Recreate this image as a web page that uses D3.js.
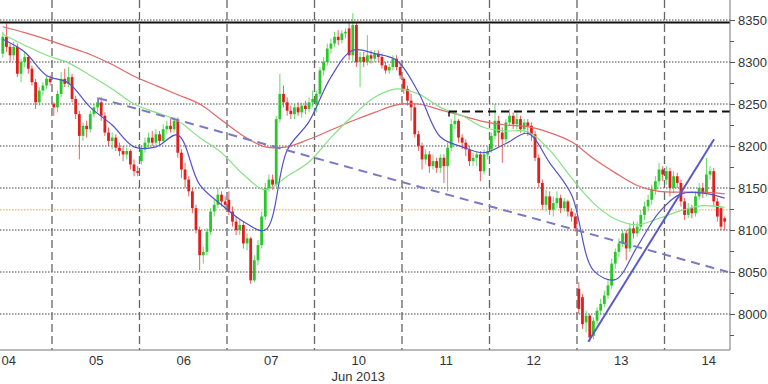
<!DOCTYPE html>
<html>
  <head>
    <meta charset="utf-8">
    <title>Jun 2013 hourly</title>
    <script src="https://d3js.org/d3.v7.min.js"></script>
    <style>
      body { margin: 0; background: #fff; }
      text { font-family: "Liberation Sans", Arial, sans-serif; }
    </style>
  </head>
  <body>
    <script type="text/javascript">
      // trading days on the x axis, 24 half-hour bars each
      var days = ['04', '05', '06', '07', '10', '11', '12', '13', '14'];
      var monthLabel = 'Jun 2013';
      var monthDay = 4;           // label sits under "10"
      var barsPerDay = 24;
      var firstBar = 10;          // first visible bar of day 04

      var opens = [
        8310, 8330, 8318, 8308, 8318, 8286, 8300, 8306, 8292, 8276, 8252, 8266, 8272, 8280,
        8250, 8246, 8262, 8280, 8274, 8282, 8256, 8238, 8212, 8224, 8220, 8238, 8246, 8252, 8236, 8216, 8206, 8210, 8198, 8194, 8190, 8194, 8178, 8170,
        8182, 8196, 8204, 8210, 8204, 8214, 8206, 8220, 8224, 8220, 8230, 8192, 8172, 8160, 8146, 8126, 8100, 8070, 8074, 8098, 8122, 8130, 8142, 8134,
        8136, 8122, 8110, 8100, 8106, 8084, 8090, 8040, 8064, 8082, 8116, 8150, 8160, 8154, 8232, 8262, 8252, 8242, 8238, 8246, 8240, 8248, 8244, 8252,
        8250, 8262, 8290, 8300, 8316, 8322, 8330, 8326, 8334, 8340, 8308, 8344, 8300, 8306, 8300, 8308, 8304, 8310, 8306, 8296, 8290, 8294, 8304, 8294,
        8280, 8268, 8254, 8246, 8214, 8200, 8184, 8190, 8176, 8182, 8174, 8186, 8176, 8198, 8226, 8230, 8210, 8204, 8196, 8182, 8186, 8190, 8170, 8190,
        8196, 8212, 8230, 8216, 8208, 8228, 8236, 8226, 8232, 8220, 8228, 8224, 8214, 8186, 8156, 8130, 8140, 8124, 8132, 8138, 8126, 8134, 8122, 8116,
        8030, 8020, 7990, 7998, 7974, 7992, 8004, 8012, 8022, 8034, 8060, 8074, 8084, 8096, 8078, 8102, 8096, 8104, 8118, 8128, 8136, 8148, 8158, 8172,
        8160, 8170, 8150, 8164, 8156, 8134, 8118, 8126, 8120, 8140, 8150, 8144, 8166, 8170, 8134, 8126, 8114
      ];
      var highs = [
        8336, 8346, 8322, 8324, 8322, 8304, 8312, 8308, 8296, 8280, 8270, 8276, 8284, 8284,
        8252, 8266, 8288, 8292, 8294, 8286, 8260, 8242, 8228, 8230, 8242, 8250, 8258, 8258, 8240, 8222, 8216, 8214, 8204, 8200, 8198, 8196, 8184, 8176,
        8200, 8210, 8216, 8218, 8220, 8218, 8226, 8230, 8232, 8234, 8234, 8196, 8180, 8164, 8150, 8130, 8104, 8080, 8102, 8126, 8136, 8150, 8146, 8140,
        8146, 8128, 8116, 8112, 8110, 8096, 8092, 8070, 8088, 8122, 8156, 8166, 8166, 8236, 8286, 8272, 8258, 8248, 8250, 8252, 8252, 8254, 8258, 8266,
        8266, 8294, 8306, 8322, 8328, 8336, 8338, 8338, 8340, 8348, 8358, 8348, 8312, 8312, 8332, 8314, 8314, 8314, 8310, 8300, 8298, 8308, 8308, 8298,
        8282, 8272, 8262, 8250, 8218, 8204, 8196, 8194, 8190, 8186, 8190, 8190, 8204, 8232, 8240, 8232, 8214, 8208, 8200, 8192, 8194, 8194, 8196, 8200,
        8216, 8250, 8236, 8222, 8232, 8244, 8240, 8240, 8236, 8232, 8232, 8228, 8218, 8190, 8160, 8148, 8146, 8140, 8146, 8142, 8138, 8136, 8126, 8120,
        8038, 8024, 8004, 8000, 7996, 8008, 8018, 8028, 8040, 8066, 8078, 8090, 8100, 8100, 8108, 8110, 8110, 8124, 8134, 8142, 8154, 8164, 8180, 8176,
        8176, 8174, 8170, 8168, 8160, 8138, 8132, 8130, 8146, 8156, 8156, 8186, 8176, 8174, 8138, 8128, 8116
      ];
      var lows = [
        8305, 8312, 8300, 8302, 8282, 8276, 8294, 8286, 8272, 8244, 8248, 8260, 8268, 8272,
        8236, 8240, 8258, 8270, 8270, 8252, 8232, 8184, 8206, 8210, 8216, 8234, 8240, 8230, 8212, 8200, 8196, 8194, 8188, 8182, 8184, 8172, 8164, 8164,
        8178, 8192, 8198, 8200, 8200, 8200, 8204, 8214, 8216, 8216, 8186, 8162, 8150, 8140, 8120, 8096, 8052, 8060, 8070, 8094, 8116, 8126, 8128, 8124,
        8118, 8104, 8094, 8094, 8078, 8076, 8036, 8038, 8058, 8078, 8112, 8146, 8148, 8150, 8228, 8246, 8236, 8232, 8232, 8236, 8234, 8238, 8240, 8246,
        8240, 8258, 8284, 8296, 8310, 8318, 8320, 8322, 8328, 8302, 8300, 8294, 8270, 8294, 8296, 8298, 8300, 8300, 8292, 8286, 8286, 8290, 8290, 8280,
        8262, 8248, 8230, 8210, 8194, 8172, 8178, 8168, 8172, 8168, 8168, 8156, 8146, 8194, 8220, 8204, 8196, 8188, 8176, 8176, 8176, 8158, 8166, 8184,
        8192, 8208, 8200, 8180, 8204, 8224, 8220, 8220, 8216, 8214, 8212, 8206, 8182, 8150, 8124, 8122, 8118, 8116, 8126, 8120, 8122, 8116, 8110, 8098,
        8000, 7982, 7978, 7967, 7970, 7988, 8000, 8008, 8018, 8030, 8054, 8068, 8080, 8064, 8074, 8090, 8092, 8100, 8112, 8122, 8130, 8142, 8152, 8158,
        8154, 8140, 8144, 8150, 8128, 8112, 8114, 8114, 8116, 8136, 8138, 8140, 8160, 8128, 8110, 8100, 8100
      ];
      var closes = [
        8330, 8318, 8308, 8318, 8286, 8300, 8306, 8292, 8276, 8252, 8266, 8272, 8280, 8276,
        8246, 8262, 8280, 8274, 8282, 8256, 8238, 8212, 8224, 8220, 8238, 8246, 8252, 8236, 8216, 8206, 8210, 8198, 8194, 8190, 8194, 8178, 8170, 8168,
        8196, 8204, 8210, 8204, 8214, 8206, 8220, 8224, 8220, 8230, 8192, 8172, 8160, 8146, 8126, 8100, 8070, 8074, 8098, 8122, 8130, 8142, 8134, 8130,
        8122, 8110, 8100, 8106, 8084, 8090, 8040, 8064, 8082, 8116, 8150, 8160, 8154, 8232, 8262, 8252, 8242, 8238, 8246, 8240, 8248, 8244, 8252, 8256,
        8262, 8290, 8300, 8316, 8322, 8330, 8326, 8334, 8336, 8308, 8344, 8300, 8306, 8300, 8308, 8304, 8310, 8306, 8296, 8290, 8294, 8304, 8294, 8284,
        8268, 8254, 8246, 8214, 8200, 8184, 8190, 8176, 8182, 8174, 8186, 8176, 8198, 8226, 8230, 8210, 8204, 8196, 8182, 8186, 8190, 8170, 8190, 8194,
        8212, 8230, 8216, 8208, 8228, 8236, 8226, 8232, 8220, 8228, 8224, 8214, 8186, 8156, 8130, 8140, 8124, 8132, 8138, 8126, 8134, 8122, 8116, 8102,
        8006, 7988, 7998, 7972, 7992, 8004, 8012, 8022, 8034, 8060, 8074, 8084, 8096, 8078, 8102, 8096, 8104, 8118, 8128, 8136, 8148, 8158, 8172, 8166,
        8170, 8150, 8164, 8156, 8134, 8118, 8126, 8120, 8140, 8150, 8144, 8166, 8170, 8134, 8116, 8104, 8110
      ];

      // moving averages read every 6 bars from bar 10
      var maStep = 6;
      var maSlow = [8342, 8335, 8327, 8318, 8309, 8297, 8283, 8272, 8261, 8250, 8231, 8212, 8199, 8199, 8208, 8219, 8230,
                    8240, 8249, 8250, 8243, 8236, 8229, 8225, 8223, 8216, 8205, 8185, 8168, 8153, 8146, 8145, 8145, 8143];
      var maMid = [8333, 8320, 8308, 8299, 8284, 8268, 8250, 8240, 8230, 8210, 8192, 8166, 8148, 8164, 8181, 8210, 8236,
                   8258, 8268, 8262, 8246, 8236, 8222, 8218, 8217, 8195, 8162, 8132, 8113, 8106, 8114, 8123, 8129, 8127];
      var maFast = [8327, 8312, 8284, 8275, 8246, 8225, 8199, 8199, 8213, 8154, 8130, 8110, 8100, 8195, 8229, 8282, 8314,
                    8310, 8302, 8264, 8211, 8199, 8192, 8203, 8215, 8180, 8142, 8052, 8041, 8080, 8121, 8143, 8144, 8138];

      var priceTicks = [8000, 8050, 8100, 8150, 8200, 8250, 8300, 8350];
      var minorTicks = [7975, 8025, 8075, 8125, 8175, 8225, 8275, 8325];

      // drawn levels and trend lines [bar, price]
      var topLevel = 8347;
      var resistLevel = 8241;
      var resistFrom = 132.9;
      var orangeLevel = 8124;
      var trendDown = [[36.7, 8257], [209.4, 8050]];
      var trendUp = [[171.1, 7967], [205.6, 8208]];

      var W = 768, H = 384, right = 730, bottom = 350;

      var x = d3.scaleLinear()
                .domain([0, barsPerDay * days.length])
                .range([-35.5, -35.5 + 87.5 * days.length]);
      var y = d3.scaleLinear()
                .domain([8000, 8350])
                .range([314, 20]);

      var svg = d3.select('body')
                  .append('svg')
                  .attr('width', W)
                  .attr('height', H);

      svg.append('defs').append('clipPath').attr('id', 'plot')
         .append('rect').attr('x', 0).attr('y', 0).attr('width', right).attr('height', bottom);

      var plot = svg.append('g').attr('clip-path', 'url(#plot)');

      // grid
      plot.selectAll('.hgrid')
          .data(priceTicks)
          .enter().append('line')
            .attr('x1', 0).attr('x2', right)
            .attr('y1', d => y(d)).attr('y2', d => y(d))
            .attr('stroke', '#444')
            .attr('stroke-width', 1)
            .attr('stroke-dasharray', '1.5,1.5');
      plot.selectAll('.vgrid')
          .data(d3.range(1, days.length))
          .enter().append('line')
            .attr('x1', d => x(d * barsPerDay)).attr('x2', d => x(d * barsPerDay))
            .attr('y1', 0).attr('y2', bottom)
            .attr('stroke', '#666')
            .attr('stroke-width', 1.3)
            .attr('stroke-dasharray', '8,4');

      plot.append('line')
          .attr('x1', 0).attr('x2', right)
          .attr('y1', y(orangeLevel)).attr('y2', y(orangeLevel))
          .attr('stroke', '#f0a030')
          .attr('stroke-dasharray', '1.5,1.5');

      // candles
      var bars = closes.map(function(c, i) {
        return { g: firstBar + i, o: opens[i], h: highs[i], l: lows[i], c: c };
      });
      var cx = d => x(d.g + 0.5);
      var col = d => d.c >= d.o ? '#28c828' : '#e01e1e';

      plot.selectAll('.wick')
          .data(bars)
          .enter().append('line')
            .attr('x1', cx).attr('x2', cx)
            .attr('y1', d => y(d.h)).attr('y2', d => y(d.l))
            .attr('stroke', col)
            .attr('stroke-opacity', 0.7)
            .attr('stroke-width', 1);
      plot.selectAll('.body')
          .data(bars)
          .enter().append('rect')
            .attr('x', d => cx(d) - 1.4)
            .attr('width', 2.8)
            .attr('y', d => y(Math.max(d.o, d.c)))
            .attr('height', d => Math.max(1, Math.abs(y(d.o) - y(d.c))))
            .attr('fill', col);

      // moving averages
      var maLine = d3.line()
                     .x((d, i) => x(firstBar + i * maStep + 0.5))
                     .y(d => y(d))
                     .curve(d3.curveCatmullRom.alpha(0.5));
      [[maSlow, '#e06868'], [maMid, '#88e088'], [maFast, '#5252cc']].forEach(function(m) {
        plot.append('path')
            .attr('d', maLine(m[0]))
            .attr('fill', 'none')
            .attr('stroke', m[1])
            .attr('stroke-width', 1.2);
      });

      // levels and trend lines
      plot.append('line')
          .attr('x1', 0).attr('x2', right)
          .attr('y1', y(topLevel)).attr('y2', y(topLevel))
          .attr('stroke', '#111').attr('stroke-width', 2);
      plot.append('line')
          .attr('x1', x(resistFrom)).attr('x2', right)
          .attr('y1', y(resistLevel)).attr('y2', y(resistLevel))
          .attr('stroke', '#111').attr('stroke-width', 2)
          .attr('stroke-dasharray', '8,5');
      plot.append('line')
          .attr('x1', x(resistFrom)).attr('x2', x(resistFrom))
          .attr('y1', y(resistLevel)).attr('y2', y(resistLevel) + 5)
          .attr('stroke', '#111').attr('stroke-width', 1.5);

      var tl = d3.line().x(d => x(d[0])).y(d => y(d[1]));
      plot.append('path')
          .attr('d', tl(trendDown))
          .attr('fill', 'none')
          .attr('stroke', '#7a7ac4').attr('stroke-width', 2)
          .attr('stroke-dasharray', '9,6');
      plot.append('line')
          .attr('x1', x(trendDown[0][0])).attr('x2', x(trendDown[0][0]))
          .attr('y1', y(trendDown[0][1])).attr('y2', y(trendDown[0][1]) + 6)
          .attr('stroke', '#7a7ac4').attr('stroke-width', 1.5);
      plot.append('path')
          .attr('d', tl(trendUp))
          .attr('fill', 'none')
          .attr('stroke', '#5a5ac8').attr('stroke-width', 2);

      // axes
      svg.append('line')
         .attr('x1', right).attr('x2', right).attr('y1', 0).attr('y2', bottom)
         .attr('stroke', '#777');
      svg.append('line')
         .attr('x1', 0).attr('x2', right).attr('y1', bottom).attr('y2', bottom)
         .attr('stroke', '#777');

      var yAxis = d3.axisRight(y)
                    .tickValues(priceTicks)
                    .tickSize(5)
                    .tickPadding(3)
                    .tickFormat(d3.format('d'));
      var yg = svg.append('g')
                  .attr('transform', 'translate(' + right + ',0)')
                  .call(yAxis);
      var yMinor = svg.append('g')
                      .attr('transform', 'translate(' + right + ',0)')
                      .call(d3.axisRight(y).tickValues(minorTicks).tickSize(4).tickFormat(''));
      [yg, yMinor].forEach(function(g) {
        g.select('.domain').remove();
        g.selectAll('line').attr('stroke', '#555');
      });
      yg.selectAll('text')
        .attr('font-size', 13)
        .attr('fill', '#333')
        .style('font-family', '"Liberation Sans", Arial, sans-serif');

      var xAxis = d3.axisBottom(x)
                    .tickValues(days.map((d, i) => i * barsPerDay + barsPerDay / 2))
                    .tickFormat((d, i) => days[i])
                    .tickSize(0)
                    .tickPadding(6);
      var xg = svg.append('g')
                  .attr('transform', 'translate(0,' + bottom + ')')
                  .call(xAxis);
      xg.select('.domain').remove();
      xg.selectAll('text')
        .attr('font-size', 13)
        .attr('fill', '#333')
        .style('font-family', '"Liberation Sans", Arial, sans-serif');

      svg.append('text')
         .attr('x', x(monthDay * barsPerDay + barsPerDay / 2))
         .attr('y', 381)
         .attr('text-anchor', 'middle')
         .attr('font-size', 13)
         .attr('fill', '#333')
         .text(monthLabel);
    </script>
  </body>
</html>
